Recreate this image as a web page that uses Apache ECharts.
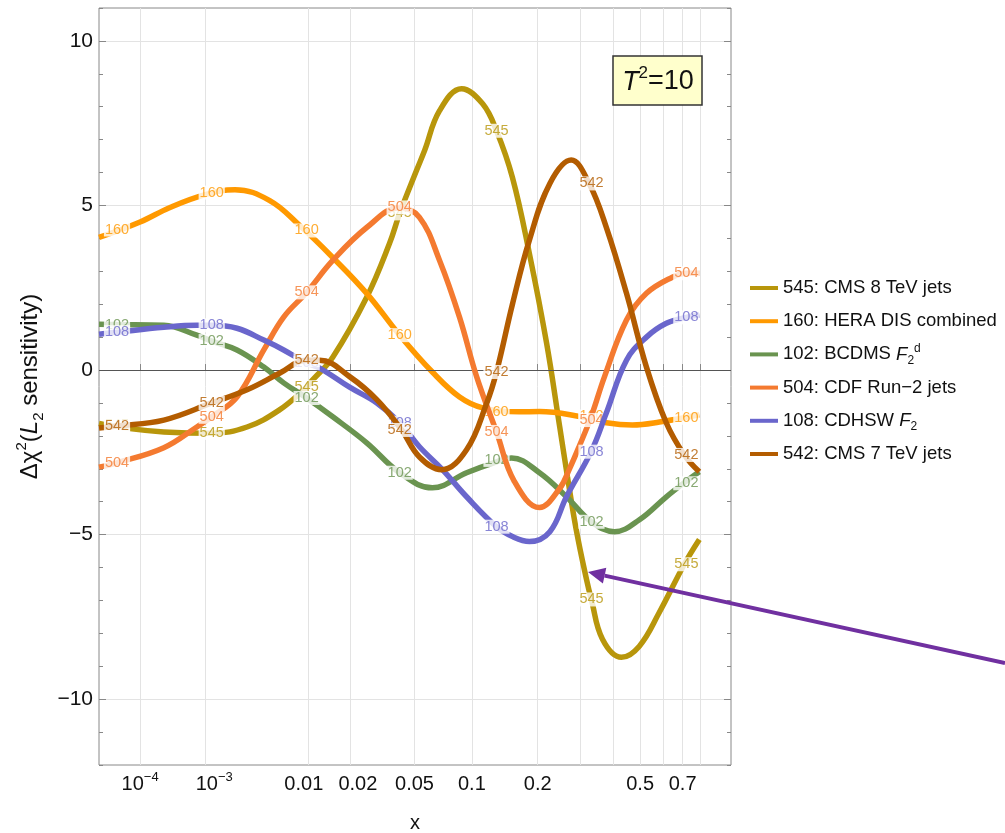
<!DOCTYPE html>
<html>
<head>
<meta charset="utf-8">
<script src="https://cdn.jsdelivr.net/npm/echarts@6/dist/echarts.min.js"></script>
<style>
  html, body { margin: 0; padding: 0; background: #fff; }
  #chart { width: 1005px; height: 833px; }
</style>
</head>
<body>
<div id="chart"></div>
<script>
// momentum fraction x and delta chi^2 values
const x545 = [1e-5, 6.2e-5, 2.63e-4, 1.2e-3, 2.9e-3, 5.8e-3, 9.2e-3, 0.0108, 0.0152, 0.0258, 0.0358, 0.0411, 0.0513, 0.0569, 0.0685, 0.089, 0.1128, 0.1311, 0.155, 0.184, 0.218, 0.247, 0.2656, 0.288, 0.316, 0.33, 0.364, 0.428, 0.497, 0.584, 0.709, 0.794];
const y545 = [-1.62, -1.78, -1.88, -1.92, -1.73, -1.21, -0.6, -0.3, 0.39, 2.21, 3.85, 4.76, 6.06, 6.67, 7.88, 8.55, 8.09, 7.27, 5.85, 3.55, 0.82, -1.72, -3.24, -4.85, -6.36, -6.97, -8.18, -8.73, -8.39, -7.36, -5.9, -5.15];

const x160 = [1e-5, 1e-4, 3.29e-4, 1e-3, 2.18e-3, 4.76e-3, 8.56e-3, 0.0152, 0.0258, 0.0411, 0.0627, 0.0869, 0.1128, 0.1663, 0.2035, 0.2966, 0.3766, 0.4693, 0.5843, 0.794];
const y160 = [4.03, 4.5, 4.94, 5.33, 5.48, 5.15, 4.39, 3.42, 2.33, 1.06, -0.06, -0.82, -1.15, -1.27, -1.26, -1.41, -1.6, -1.67, -1.58, -1.36];

const x102 = [1e-5, 3.1e-5, 2.63e-4, 7.85e-4, 1.2e-3, 2.29e-3, 4.2e-3, 6.3e-3, 9.7e-3, 0.0152, 0.0258, 0.0411, 0.0627, 0.0942, 0.1311, 0.1536, 0.2035, 0.2632, 0.33, 0.4035, 0.4973, 0.617, 0.709, 0.794];
const y102 = [1.39, 1.38, 1.36, 1.06, 0.88, 0.61, 0.09, -0.39, -0.85, -1.42, -2.21, -3.12, -3.58, -3.12, -2.79, -2.67, -3.12, -3.85, -4.61, -4.91, -4.55, -3.85, -3.42, -3.09];

const x504 = [1e-5, 3.1e-5, 2.63e-4, 7.85e-4, 1.2e-3, 2.29e-3, 4.2e-3, 6.3e-3, 9.7e-3, 0.0152, 0.0258, 0.0411, 0.0533, 0.0685, 0.0869, 0.1055, 0.1311, 0.158, 0.2035, 0.2469, 0.2707, 0.2966, 0.33, 0.3705, 0.4468, 0.5265, 0.6463, 0.72, 0.794];
const y504 = [-2.95, -2.82, -2.36, -1.73, -1.42, -0.82, 0.61, 1.61, 2.36, 3.33, 4.33, 4.94, 4.64, 3.33, 1.6, -0.2, -1.88, -3.38, -4.18, -3.6, -3.0, -2.3, -1.4, -0.2, 1.52, 2.33, 2.82, 2.94, 2.94];

const x108 = [1e-5, 3.1e-5, 2.63e-4, 7.85e-4, 1.2e-3, 2.29e-3, 4.2e-3, 6.3e-3, 9.7e-3, 0.0122, 0.0199, 0.0299, 0.0411, 0.0533, 0.0711, 0.0942, 0.1311, 0.155, 0.1842, 0.225, 0.2632, 0.3294, 0.3766, 0.4468, 0.5265, 0.617, 0.72, 0.794];
const y108 = [1.09, 1.15, 1.3, 1.36, 1.36, 1.27, 0.91, 0.61, 0.21, 0.06, -0.52, -1.0, -1.6, -2.33, -3.03, -3.85, -4.76, -5.06, -5.21, -4.91, -3.85, -2.48, -1.3, 0.3, 1.0, 1.42, 1.6, 1.67];

const x542 = [1e-5, 3.1e-5, 2.63e-4, 1.2e-3, 2.9e-3, 5.8e-3, 9.7e-3, 0.0122, 0.0199, 0.0299, 0.0422, 0.0533, 0.0703, 0.0942, 0.118, 0.1311, 0.155, 0.184, 0.225, 0.2751, 0.3236, 0.3766, 0.4468, 0.5265, 0.617, 0.709, 0.794];
const y542 = [-1.76, -1.7, -1.52, -1.0, -0.6, -0.1, 0.3, 0.3, -0.2, -0.9, -1.82, -2.64, -3.03, -2.42, -1.0, -0.06, 2.0, 3.94, 5.67, 6.38, 5.67, 4.33, 2.33, 0.09, -1.61, -2.58, -3.09];

// where the data-set tags sit along each curve
const labelX = [3.13e-5, 1.2e-3, 9.7e-3, 0.0411, 0.1311, 0.3304, 0.72];
const lab545 = [-1.68, -1.91, -0.52, 4.76, 7.27, -6.97, -5.9];
const lab160 = [4.27, 5.39, 4.24, 1.06, -1.27, -1.41, -1.45];
const lab102 = [1.38, 0.88, -0.85, -3.12, -2.73, -4.61, -3.44];
const lab504 = [-2.82, -1.42, 2.36, 4.94, -1.88, -1.52, 2.94];
const lab108 = [1.15, 1.36, 0.21, -1.6, -4.76, -2.48, 1.6];
const lab542 = [-1.7, -1.0, 0.3, -1.82, -0.06, 5.67, -2.58];

const xTickVals = [1e-4, 1e-3, 0.01, 0.02, 0.05, 0.1, 0.2, 0.3, 0.4, 0.5, 0.6, 0.7, 0.8];
const xLabelVals = [1e-4, 1e-3, 0.01, 0.02, 0.05, 0.1, 0.2, 0.5, 0.7];
// a few labels are nudged sideways in the original, done with padded tokens
const xLabelText = ['10{sup|\u22124}', '{pr|10}{sup|\u22123}', '{pl|0.01}', '{pq|0.02}', '0.05', '0.1', '0.2', '0.5', '0.7'];
const yMajor = [-10, -5, 0, 5, 10];

// x axis is drawn in x^0.2
const tx = v => Math.pow(v, 0.2);

const curves = [
  { name: '545: CMS 8 TeV jets', text: '545: CMS 8 TeV jets', tag: '545', color: '#B8960B', xs: x545, ys: y545, lab: lab545 },
  { name: '160: HERA DIS combined', text: '160: HERA DIS combined', tag: '160', color: '#FF9900', xs: x160, ys: y160, lab: lab160 },
  { name: '102: BCDMS F2d', text: '102: BCDMS {i|F}{sub|2}{sup|d}', tag: '102', color: '#6A9450', xs: x102, ys: y102, lab: lab102 },
  { name: '504: CDF Run-2 jets', text: '504: CDF Run\u22122 jets', tag: '504', color: '#F47A30', xs: x504, ys: y504, lab: lab504 },
  { name: '108: CDHSW F2', text: '108: CDHSW {i|F}{sub|2}', tag: '108', color: '#6A66CC', xs: x108, ys: y108, lab: lab108 },
  { name: '542: CMS 7 TeV jets', text: '542: CMS 7 TeV jets', tag: '542', color: '#B35C00', xs: x542, ys: y542, lab: lab542 }
];

const font = '"Liberation Sans", Arial, sans-serif';
const series = [];
curves.forEach((c, i) => {
  series.push({
    name: c.name,
    type: 'line',
    data: c.xs.map((x, j) => [tx(x), c.ys[j]]),
    smooth: 0.4,
    symbol: 'none',
    z: 2 + 2 * i,
    lineStyle: { width: 5.5, color: c.color },
    itemStyle: { color: c.color },
    markLine: i === 0 ? {
      silent: true,
      symbol: 'none',
      label: { show: false },
      lineStyle: { color: '#555', width: 1, type: 'solid' },
      data: [{ yAxis: 0 }]
    } : undefined
  });
  series.push({
    name: c.tag + ' tags',
    type: 'scatter',
    data: labelX.map((x, j) => [tx(x), c.lab[j]]),
    symbolSize: 0,
    z: 3 + 2 * i,
    label: {
      show: true,
      position: 'inside',
      formatter: c.tag,
      color: c.color,
      fontSize: 14.5,
      fontFamily: font,
      backgroundColor: '#fff',
      padding: [0, 1],
      lineHeight: 14
    }
  });
});

const legendText = {};
curves.forEach(c => { legendText[c.name] = c.text; });

const tickStyle = { color: '#888', width: 1 };
const chart = echarts.init(document.getElementById('chart'));
chart.setOption({
  animation: false,
  textStyle: { fontFamily: font },
  grid: {
    left: 99, right: 274, top: 8, bottom: 68,
    outerBoundsMode: 'none', containLabel: false,
    show: true, borderColor: '#888', borderWidth: 1
  },
  legend: {
    orient: 'vertical',
    left: 745,
    top: 271,
    icon: 'rect',
    itemWidth: 28,
    itemHeight: 4,
    itemGap: 9.2,
    data: curves.map(c => c.name),
    formatter: name => legendText[name],
    textStyle: {
      fontSize: 18.5, lineHeight: 24, color: '#111', fontFamily: font,
      rich: {
        i: { fontSize: 18.5, lineHeight: 24, fontStyle: 'italic', color: '#111' },
        sub: { fontSize: 12, lineHeight: 12, verticalAlign: 'bottom', color: '#111' },
        sup: { fontSize: 12, lineHeight: 12, verticalAlign: 'top', color: '#111' }
      }
    }
  },
  xAxis: {
    type: 'value',
    min: tx(1e-5),
    max: 1,
    axisLine: { show: false },
    axisTick: { inside: true, length: 6, lineStyle: tickStyle, customValues: xTickVals.map(tx) },
    axisLabel: {
      customValues: xLabelVals.map(tx),
      formatter: v => {
        for (let k = 0; k < xLabelVals.length; k++) {
          if (Math.abs(tx(xLabelVals[k]) - v) < 1e-6) return xLabelText[k];
        }
        return '';
      },
      fontSize: 20, lineHeight: 26, color: '#111', margin: 6,
      rich: {
        sup: { fontSize: 13, lineHeight: 13, verticalAlign: 'top', color: '#111' },
        pr: { fontSize: 20, lineHeight: 26, color: '#111', padding: [0, 0, 0, 18] },
        pl: { fontSize: 20, lineHeight: 26, color: '#111', padding: [0, 9, 0, 0] },
        pq: { fontSize: 20, lineHeight: 26, color: '#111', padding: [0, 0, 0, 16] }
      }
    },
    splitLine: { show: true, lineStyle: { color: '#e3e3e3', width: 1 } },
    name: 'x',
    nameLocation: 'middle',
    nameGap: 48,
    nameTextStyle: { fontSize: 20, color: '#111' }
  },
  yAxis: [
    {
      type: 'value', min: -12, max: 11, position: 'left',
      axisLine: { show: false },
      axisTick: { inside: true, length: 7, lineStyle: tickStyle, customValues: yMajor },
      axisLabel: {
        customValues: yMajor,
        formatter: v => (v < 0 ? '\u2212' + (-v) : String(v)),
        fontSize: 21, color: '#111', margin: 6
      },
      splitLine: { show: true, lineStyle: { color: '#e3e3e3', width: 1 } },
      name: '\u0394\u03c7{sup|2}({i|L}{sub|2} sensitivity)',
      nameLocation: 'middle',
      nameRotate: 90,
      nameGap: 32,
      nameTextStyle: {
        fontSize: 24, lineHeight: 32, color: '#111',
        rich: {
          i: { fontSize: 24, lineHeight: 32, fontStyle: 'italic', color: '#111' },
          sub: { fontSize: 15, lineHeight: 15, verticalAlign: 'bottom', color: '#111' },
          sup: { fontSize: 15, lineHeight: 15, verticalAlign: 'top', color: '#111' }
        }
      }
    },
    {
      type: 'value', min: -12, max: 11, interval: 1, position: 'left',
      axisLine: { show: false },
      axisTick: { inside: true, length: 4, lineStyle: tickStyle },
      axisLabel: { show: false },
      splitLine: { show: false }
    },
    {
      type: 'value', min: -12, max: 11, position: 'right',
      axisLine: { show: false },
      axisTick: { inside: true, length: 7, lineStyle: tickStyle, customValues: yMajor },
      axisLabel: { show: false },
      splitLine: { show: false }
    },
    {
      type: 'value', min: -12, max: 11, interval: 1, position: 'right',
      axisLine: { show: false },
      axisTick: { inside: true, length: 4, lineStyle: tickStyle },
      axisLabel: { show: false },
      splitLine: { show: false }
    }
  ],
  series: series,
  graphic: [
    {
      type: 'rect', z: 100,
      shape: { x: 613, y: 56, width: 89, height: 49 },
      style: { fill: '#FFFFCC', stroke: '#333', lineWidth: 1.5 }
    },
    {
      type: 'text', z: 101, x: 658, y: 82,
      style: {
        text: '{i|T}{sup|2}=10',
        fontSize: 27, lineHeight: 34, fontFamily: font, fill: '#111',
        align: 'center', verticalAlign: 'middle',
        rich: {
          i: { fontSize: 27, lineHeight: 34, fontStyle: 'italic', fontFamily: font, fill: '#111' },
          sup: { fontSize: 17, lineHeight: 17, verticalAlign: 'top', fontFamily: font, fill: '#111' }
        }
      }
    },
    {
      type: 'line', z: 100,
      shape: { x1: 1005, y1: 663, x2: 604.6, y2: 575.6 },
      style: { stroke: '#7030A0', lineWidth: 4 }
    },
    {
      type: 'polygon', z: 100,
      shape: { points: [[588, 572], [606.3, 567.8], [602.9, 583.4]] },
      style: { fill: '#7030A0' }
    }
  ]
});
window.addEventListener('resize', () => chart.resize());
</script>
</body>
</html>
